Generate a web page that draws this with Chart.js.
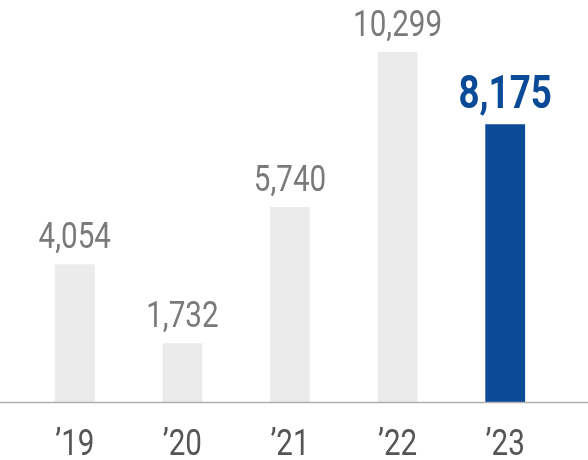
<!DOCTYPE html>
<html>
<head>
<meta charset="utf-8">
<script src="https://cdn.jsdelivr.net/npm/chart.js@4"></script>
<style>
  body { margin: 0; background: #fff; }
  #wrap { width: 588px; height: 460px; }
</style>
</head>
<body>
<div id="wrap"><canvas id="myChart"></canvas></div>
<script>
const years = ["’19", "’20", "’21", "’22", "’23"];
const values = [4054, 1732, 5740, 10299, 8175];
const barColors = ['#ebebeb', '#ebebeb', '#ebebeb', '#ebebeb', '#0a4a96'];
const labelColors = ['#7a7a7a', '#7a7a7a', '#7a7a7a', '#7a7a7a', '#0a4a96'];

const FONT = "'Roboto', sans-serif";

// condensed-looking text: squeeze horizontally
function narrowText(ctx, text, x, y, sx) {
  ctx.save();
  ctx.translate(x, y);
  ctx.scale(sx, 1);
  ctx.fillText(text, 0, 0);
  ctx.restore();
}

const labelsPlugin = {
  id: 'labels',
  afterDatasetsDraw(chart) {
    const ctx = chart.ctx;
    const meta = chart.getDatasetMeta(0);
    const x = chart.scales.x;
    const area = chart.chartArea;
    ctx.save();
    ctx.strokeStyle = '#b0b0b0';
    ctx.lineWidth = 1.5;
    ctx.beginPath();
    ctx.moveTo(0, area.bottom + 0.5);
    ctx.lineTo(chart.width, area.bottom + 0.5);
    ctx.stroke();

    ctx.textAlign = 'center';
    meta.data.forEach((bar, i) => {
      const last = i === values.length - 1;
      ctx.fillStyle = labelColors[i];
      ctx.font = (last ? 'bold 46px ' : '37px ') + FONT;
      ctx.textBaseline = 'alphabetic';
      narrowText(ctx, values[i].toLocaleString('en-US'), bar.x, bar.y - 16, 0.8);
      ctx.fillStyle = '#555';
      ctx.font = '37px ' + FONT;
      narrowText(ctx, years[i], x.getPixelForValue(i), area.bottom + 53, 0.8);
    });
    ctx.restore();
  }
};

const ctx = document.getElementById('myChart').getContext('2d');
new Chart(ctx, {
  type: 'bar',
  data: {
    labels: years,
    datasets: [{
      data: values,
      backgroundColor: barColors,
      barPercentage: 0.37,
      categoryPercentage: 1
    }]
  },
  options: {
    responsive: true,
    maintainAspectRatio: false,
    animation: false,
    layout: { padding: { left: 21, right: 29, top: 0, bottom: 58 } },
    plugins: { legend: { display: false }, tooltip: { enabled: false } },
    scales: {
      x: { display: false },
      y: { display: false, min: 0, max: 11830 }
    }
  },
  plugins: [labelsPlugin]
});
</script>
</body>
</html>
